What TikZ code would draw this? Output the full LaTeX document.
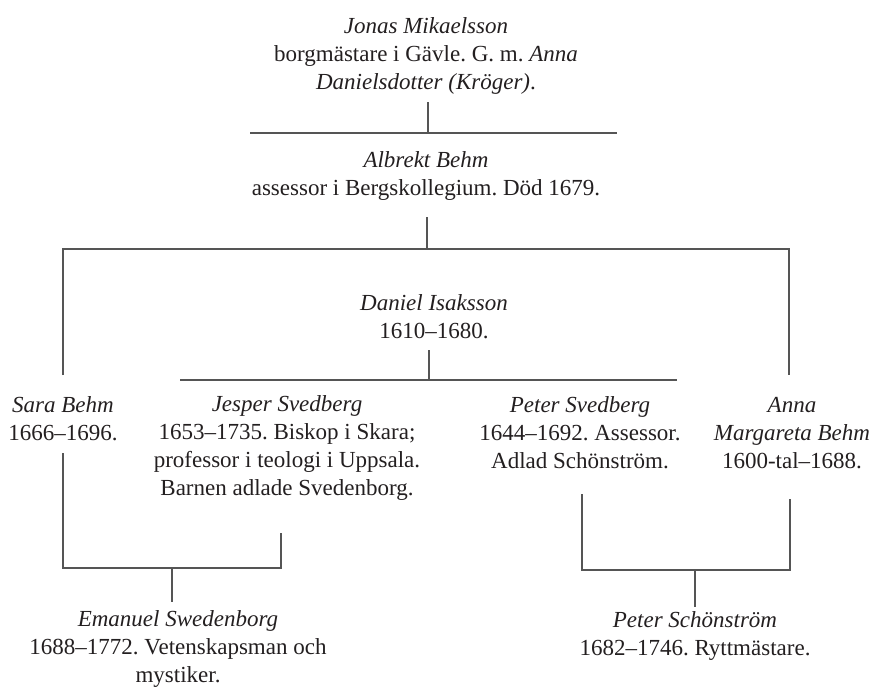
\documentclass[tikz,border=0pt]{standalone}
\usepackage{fontspec}
\setmainfont{Liberation Serif}
\frenchspacing
\definecolor{txt}{HTML}{231F20}
\definecolor{rule}{HTML}{555555}
\begin{document}
\begin{tikzpicture}[x=1pt,y=-1pt,
  person/.style={anchor=north, inner sep=0pt, align=center, text=txt,
    font=\fontsize{23}{28}\selectfont\frenchspacing},
  kin/.style={draw=rule, line width=1.1pt}]
\useasboundingbox (0,0) rectangle (873,686);

% persons (y = first baseline - 19.6)
\node[person] (jonas) at (426,13.4) {\strut\textit{Jonas Mikaelsson}\\borgmästare i Gävle. G. m. \textit{Anna}\\\textit{Danielsdotter (Kröger)}.};
\node[person] (albrekt) at (426,147.4) {\strut\textit{Albrekt Behm}\\assessor i Bergskollegium. Död 1679.};
\node[person] (daniel) at (434,290.4) {\strut\textit{Daniel Isaksson}\\1610–1680.};
\node[person] (sara) at (63,392.4) {\strut\textit{Sara Behm}\\1666–1696.};
\node[person] (jesper) at (287,391.4) {\strut\textit{Jesper Svedberg}\\1653–1735. Biskop i Skara;\\professor i teologi i Uppsala.\\Barnen adlade Svedenborg.};
\node[person] (peter) at (580,392.4) {\strut\textit{Peter Svedberg}\\1644–1692. Assessor.\\Adlad Schönström.};
\node[person] (anna) at (792,392.4) {\strut\textit{Anna}\\\textit{Margareta Behm}\\1600-tal–1688.};
\node[person] (emanuel) at (178,606.4) {\strut\textit{Emanuel Swedenborg}\\1688–1772. Vetenskapsman och\\mystiker.};
\node[person] (schon) at (695,607.4) {\strut\textit{Peter Schönström}\\1682–1746. Ryttmästare.};

% junction points
\coordinate (jonasB) at (428,102);
\coordinate (barA) at (428,133);
\coordinate (barAL) at (250,133);
\coordinate (barAR) at (617,133);
\coordinate (albrektB) at (427,217);
\coordinate (barB) at (427,249);
\coordinate (barBL) at (63,249);
\coordinate (barBR) at (789,249);
\coordinate (saraT) at (63,375);
\coordinate (annaT) at (789,375);
\coordinate (danielB) at (429,350);
\coordinate (barC) at (429,380);
\coordinate (barCL) at (180,380);
\coordinate (barCR) at (677,380);
\coordinate (saraB) at (63,453);
\coordinate (barDL) at (63,568);
\coordinate (barDR) at (281,568);
\coordinate (jesperB) at (281,533);
\coordinate (barD) at (172,568);
\coordinate (emanuelT) at (172,602);
\coordinate (peterB) at (582,494);
\coordinate (barEL) at (582,570);
\coordinate (barER) at (790,570);
\coordinate (annaB) at (790,499);
\coordinate (barE) at (695,570);
\coordinate (schonT) at (695,607);

% connectors
\draw[kin] (jonasB) -- (barA);
\draw[kin] (barAL) -- (barAR);
\draw[kin] (albrektB) -- (barB);
\draw[kin] (saraT) -- (barBL) -- (barBR) -- (annaT);
\draw[kin] (danielB) -- (barC);
\draw[kin] (barCL) -- (barCR);
\draw[kin] (saraB) -- (barDL) -- (barDR) -- (jesperB);
\draw[kin] (barD) -- (emanuelT);
\draw[kin] (peterB) -- (barEL) -- (barER) -- (annaB);
\draw[kin] (barE) -- (schonT);
\end{tikzpicture}
\end{document}
